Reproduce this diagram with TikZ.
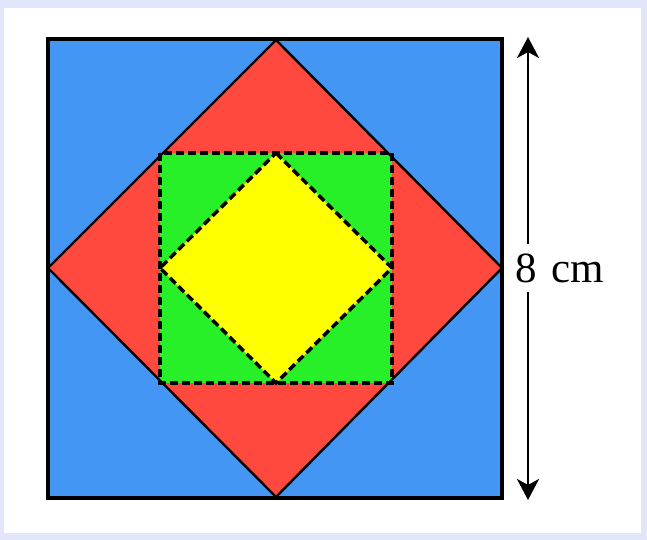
\documentclass[tikz,border=0pt]{standalone}
\usepackage{fontspec}
\setmainfont{Liberation Serif}
\usetikzlibrary{arrows.meta}
\definecolor{frame}{RGB}{226,230,250}
\definecolor{sqblue}{RGB}{68,150,245}
\definecolor{dred}{RGB}{255,72,62}
\definecolor{sqgreen}{RGB}{40,240,40}
\definecolor{dyellow}{RGB}{255,255,0}
\tikzset{
  outline/.style={draw=black,line width=4pt,line join=miter},
  diamondline/.style={draw=black,line width=2.4pt,line join=miter},
  dashline/.style={draw=black,line width=3.5pt,dash pattern=on 8pt off 4pt},
  dimarrow/.style={line width=2.8pt,-{Stealth[length=21pt,width=22pt,inset=6pt]}}
}
\begin{document}
\begin{tikzpicture}[x=1pt,y=-1pt]
  \useasboundingbox (0,0) rectangle (647,540);
  \fill[frame] (0,0) rectangle (647,540);
  \fill[white] (4,8) rectangle (641,533);
  % outer square
  \fill[sqblue] (48,39) rectangle (502,498);
  % red diamond
  \coordinate (dT) at (276,40);
  \coordinate (dL) at (48,268);
  \coordinate (dR) at (502,268);
  \coordinate (dB) at (276,497);
  \fill[dred] (dT) -- (dR) -- (dB) -- (dL) -- cycle;
  % green square
  \fill[sqgreen] (160,153) rectangle (392,383);
  % yellow diamond
  \fill[dyellow] (276,153) -- (392,268) -- (276,383) -- (160,268) -- cycle;
  % lines
  \draw[diamondline] (dT) -- (dR) -- (dB) -- (dL) -- cycle;
  \draw[dashline] (160,153) rectangle (392,383);
  \draw[dashline] (276,153) -- (392,268) -- (276,383) -- (160,268) -- cycle;
  \draw[outline] (48,39) rectangle (502,498);
  % dimension
  \node[font=\fontsize{43}{43}\selectfont,inner sep=0pt,anchor=west] (lbl) at (515,268) {8\,\,cm};
  \coordinate (aT) at (528,37);
  \coordinate (aB) at (528,500);
  \coordinate (gT) at (528,244);
  \coordinate (gB) at (528,292);
  \draw[dimarrow] (gT) -- (aT);
  \draw[dimarrow] (gB) -- (aB);
\end{tikzpicture}
\end{document}
